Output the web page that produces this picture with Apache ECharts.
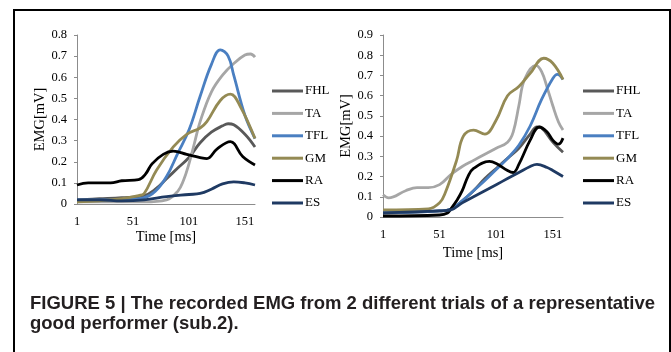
<!DOCTYPE html>
<html>
<head>
<meta charset="utf-8">
<script src="https://cdn.jsdelivr.net/npm/echarts@6/dist/echarts.min.js"></script>
<style>
html,body{margin:0;padding:0;background:#fff;}
#wrap{position:relative;width:671px;height:352px;overflow:hidden;}
#c{width:671px;height:352px;}
#cap{position:absolute;left:30px;top:293px;font-family:'Liberation Sans',Arial,sans-serif;font-weight:bold;font-size:19px;line-height:20px;color:#231f20;transform-origin:0 0;white-space:nowrap;}
#cap div{white-space:nowrap;}
</style>
</head>
<body>
<div id="wrap">
<div id="c"></div>
<div id="cap"><div id="l1" style="display:inline-block">FIGURE 5 | The recorded EMG from 2 different trials of a representative</div><div>good performer (sub.2).</div></div>
</div>
<script>
const seriesNames = ['FHL', 'TA', 'TFL', 'GM', 'RA', 'ES'];
const xTicks = [1, 51, 101, 151];

const leftFHL = [[1,0.02],[21,0.025],[41,0.03],[61,0.04],[71,0.07],[81,0.12],[91,0.17],[101,0.22],[111,0.29],[121,0.34],[131,0.37],[136,0.38],[141,0.375],[151,0.33],[160,0.27]];
const leftTA  = [[1,0.01],[41,0.01],[61,0.01],[81,0.02],[91,0.06],[96,0.11],[101,0.19],[106,0.29],[111,0.39],[121,0.53],[131,0.61],[141,0.665],[151,0.705],[156,0.71],[160,0.695]];
const leftTFL = [[1,0.02],[21,0.02],[41,0.02],[61,0.03],[71,0.06],[81,0.13],[91,0.24],[101,0.35],[111,0.51],[121,0.66],[129,0.73],[136,0.70],[141,0.61],[151,0.42],[160,0.31]];
const leftGM  = [[1,0.01],[21,0.015],[41,0.025],[56,0.04],[61,0.05],[72,0.16],[87,0.27],[99,0.33],[111,0.36],[117,0.39],[129,0.49],[138,0.52],[147,0.46],[160,0.31]];
const leftRA  = [[1,0.09],[11,0.1],[31,0.1],[41,0.11],[56,0.115],[62,0.14],[68,0.19],[78,0.235],[87,0.25],[99,0.235],[111,0.22],[117,0.215],[126,0.26],[138,0.295],[149,0.225],[160,0.185]];
const leftES  = [[1,0.02],[21,0.02],[41,0.015],[61,0.02],[81,0.035],[101,0.045],[111,0.05],[121,0.07],[131,0.095],[141,0.105],[151,0.1],[160,0.09]];

const rightFHL = [[1,0.02],[51,0.03],[61,0.04],[71,0.08],[81,0.13],[91,0.19],[101,0.24],[111,0.29],[121,0.34],[131,0.41],[137,0.445],[141,0.44],[151,0.37],[160,0.32]];
const rightTA  = [[1,0.11],[6,0.095],[21,0.13],[31,0.145],[41,0.145],[51,0.16],[61,0.21],[71,0.25],[81,0.28],[91,0.31],[101,0.34],[111,0.37],[116,0.42],[121,0.55],[126,0.68],[136,0.75],[141,0.72],[146,0.64],[151,0.55],[156,0.47],[160,0.43]];
const rightTFL = [[1,0.02],[51,0.03],[61,0.04],[71,0.08],[81,0.13],[91,0.18],[101,0.235],[111,0.29],[121,0.355],[131,0.45],[141,0.58],[151,0.685],[155,0.705],[160,0.68]];
const rightGM  = [[1,0.035],[41,0.04],[51,0.07],[56,0.12],[66,0.28],[72,0.40],[81,0.43],[91,0.41],[101,0.48],[111,0.6],[121,0.645],[131,0.71],[143,0.785],[151,0.76],[160,0.68]];
const rightRA  = [[1,0.005],[51,0.01],[58,0.02],[61,0.04],[66,0.08],[71,0.13],[76,0.2],[81,0.24],[95,0.275],[101,0.265],[111,0.23],[116,0.22],[121,0.26],[131,0.38],[139,0.445],[146,0.42],[151,0.38],[156,0.36],[160,0.39]];
const rightES  = [[1,0.02],[51,0.03],[61,0.035],[71,0.07],[81,0.1],[91,0.13],[101,0.16],[111,0.19],[121,0.22],[131,0.25],[137,0.26],[146,0.245],[151,0.23],[160,0.2]];

const colors = {FHL:'#595959', TA:'#a6a6a6', TFL:'#4a7fc1', GM:'#948a54', RA:'#000000', ES:'#1f3a63'};
const leftData = [leftFHL, leftTA, leftTFL, leftGM, leftRA, leftES];
const rightData = [rightFHL, rightTA, rightTFL, rightGM, rightRA, rightES];

// fit caption first line to the reference width (625 px)
(function(){
  const cap = document.getElementById('cap');
  const w = document.getElementById('l1').getBoundingClientRect().width;
  if (w > 0) cap.style.transform = 'scaleX(' + (625 / w) + ')';
})();

const serif = 'Liberation Serif';
const chart = echarts.init(document.getElementById('c'), null, {renderer:'canvas'});

function xAxisDef(gi){
  return {
    type:'value', gridIndex:gi, min:1, max:160,
    name:'Time [ms]', nameLocation:'middle', nameGap:26,
    nameTextStyle:{fontFamily:serif, fontSize:14.5, color:'#000'},
    axisLine:{show:true, lineStyle:{color:'#8c8c8c', width:1}},
    axisTick:{show:false},
    splitLine:{show:false},
    axisLabel:{customValues:xTicks, fontFamily:serif, fontSize:12.5, color:'#000', margin:11}
  };
}
function yAxisDef(gi, max){
  return {
    type:'value', gridIndex:gi, min:0, max:max, interval:0.1,
    name:'EMG[mV]', nameLocation:'middle', nameGap:26,
    nameTextStyle:{fontFamily:serif, fontSize:14.5, color:'#000'},
    axisLine:{show:true, lineStyle:{color:'#8c8c8c', width:1}},
    axisTick:{show:true, length:3, lineStyle:{color:'#8c8c8c'}},
    splitLine:{show:false},
    axisLabel:{fontFamily:serif, fontSize:12.5, color:'#000', margin:10,
      formatter: v => String(Math.round(v*10)/10)}
  };
}
const series = [];
seriesNames.forEach((n,i)=>{
  series.push({name:n, type:'line', xAxisIndex:0, yAxisIndex:0, data:leftData[i], smooth:0.4,
    showSymbol:false, symbol:'none', lineStyle:{color:colors[n], width:2.8}, itemStyle:{color:colors[n]}});
});
seriesNames.forEach((n,i)=>{
  series.push({name:n, type:'line', xAxisIndex:1, yAxisIndex:1, data:rightData[i], smooth:0.4,
    showSymbol:false, symbol:'none', lineStyle:{color:colors[n], width:2.8}, itemStyle:{color:colors[n]}});
});
function legendDef(left){
  return {
    orient:'vertical', left:left, top:84, padding:0, itemWidth:31, itemHeight:3, itemGap:8.4,
    icon:'rect', selectedMode:false,
    data:seriesNames.map(n=>({name:n, itemStyle:{color:colors[n]}})),
    textStyle:{fontFamily:serif, fontSize:13, color:'#000', lineHeight:14, padding:[0,0,0,-3]}
  };
}
chart.setOption({
  animation:false,
  backgroundColor:'#fff',
  grid:[
    {left:77, top:35, width:178, height:169},
    {left:383, top:35, width:180, height:182}
  ],
  xAxis:[xAxisDef(0), xAxisDef(1)],
  yAxis:[yAxisDef(0,0.8), yAxisDef(1,0.9)],
  legend:[legendDef(272), legendDef(583)],
  series:series,
  graphic:[
    {type:'rect', shape:{x:14, y:10, width:656, height:360}, style:{fill:'none', stroke:'#000', lineWidth:2}, silent:true}
  ]
});
</script>
</body>
</html>
